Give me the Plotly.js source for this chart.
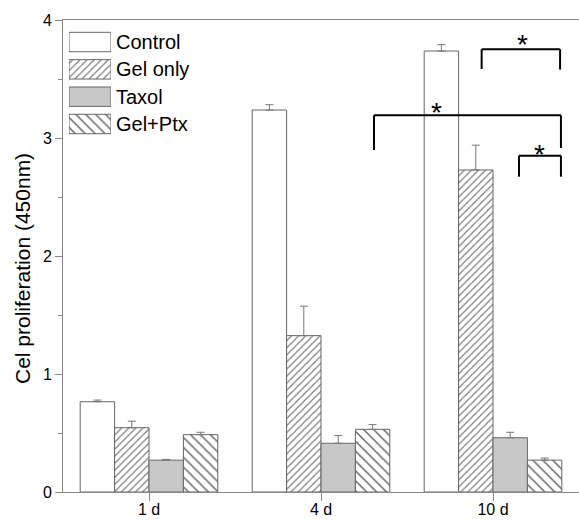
<!DOCTYPE html>
<html>
<head>
<meta charset="utf-8">
<script src="https://cdn.plot.ly/plotly-3.0.1.min.js"></script>
<style>html,body{margin:0;padding:0;background:#fff;}#chart{width:579px;height:521px;}</style>
</head>
<body>
<div id="chart"></div>
<script>
// ---- data ----
const categories = ['1 d', '4 d', '10 d'];
const seriesNames = ['Control', 'Gel only', 'Taxol', 'Gel+Ptx'];
const controlVals = [0.765, 3.237, 3.737];
const controlErr  = [0.014, 0.045, 0.054];
const gelVals     = [0.545, 1.325, 2.729];
const gelErr      = [0.055, 0.25, 0.21];
const taxolVals   = [0.27, 0.413, 0.46];
const taxolErr    = [0.006, 0.065, 0.046];
const gelPtxVals  = [0.486, 0.531, 0.27];
const gelPtxErr   = [0.02, 0.04, 0.018];
// significance brackets: [x left, x right, y top, y left foot, y right foot] (x in category index units)
const brackets = [
  [1.934, 2.39, 3.752, 3.585, 3.58],
  [1.308, 2.395, 3.192, 2.898, 2.915],
  [2.151, 2.395, 2.85, 2.672, 2.672]
];
// stars: [x, y]
const stars = [[2.169, 3.847], [1.673, 3.271], [2.273, 2.915]];
const yTitle = 'Cel proliferation (450nm)';

const FONT = 'Liberation Sans, Arial, sans-serif';
const outline = {color: '#666', width: 1};
const errStyle = {type: 'data', symmetric: false, color: '#777', thickness: 1, width: 4};
const zeros = [0, 0, 0];

const fills = [
  {color: '#ffffff', pattern: {shape: ''}},
  {color: '#ffffff', pattern: {shape: '/', fgcolor: '#777', bgcolor: '#ffffff', size: 5, solidity: 0.22}},
  {color: '#c8c8c8', pattern: {shape: ''}},
  {color: '#ffffff', pattern: {shape: '\\', fgcolor: '#555', bgcolor: '#ffffff', size: 7, solidity: 0.18}}
];
const vals = [controlVals, gelVals, taxolVals, gelPtxVals];
const errs = [controlErr, gelErr, taxolErr, gelPtxErr];

const traces = seriesNames.map((n, i) => ({
  type: 'bar', name: n, x: categories, y: vals[i],
  marker: {color: fills[i].color, line: outline, pattern: fills[i].pattern},
  error_y: Object.assign({array: errs[i], arrayminus: zeros}, errStyle),
  showlegend: false, hoverinfo: 'none'
}));

// legend swatches drawn as a small horizontal bar chart (one trace per series)
seriesNames.forEach((n, i) => {
  traces.push({
    type: 'bar', orientation: 'h', xaxis: 'x2', yaxis: 'y2',
    y: [n], x: [1], width: [0.71], offset: -0.355, base: 0,
    marker: {color: fills[i].color, line: outline, pattern: fills[i].pattern},
    cliponaxis: false, showlegend: false, hoverinfo: 'none'
  });
});

const lineStyle = {color: '#000', width: 2};
const shapes = [];
brackets.forEach(b => {
  shapes.push({type: 'line', xref: 'x', yref: 'y', x0: b[0], x1: b[1], y0: b[2], y1: b[2], line: lineStyle});
  shapes.push({type: 'line', xref: 'x', yref: 'y', x0: b[0], x1: b[0], y0: b[2], y1: b[3], line: lineStyle});
  shapes.push({type: 'line', xref: 'x', yref: 'y', x0: b[1], x1: b[1], y0: b[2], y1: b[4], line: lineStyle});
});
const annotations = stars.map(s => ({
  xref: 'x', yref: 'y', x: s[0], y: s[1], text: '*', showarrow: false,
  font: {family: FONT, size: 28, color: '#000'}, xanchor: 'center', yanchor: 'middle', yshift: -6
}));
annotations.push({
  xref: 'paper', yref: 'paper', x: -0.0775, y: 0.4725, text: yTitle, showarrow: false,
  textangle: -90, xanchor: 'center', yanchor: 'middle',
  font: {family: FONT, size: 21, color: '#000'}
});

const layout = {
  width: 579, height: 521,
  margin: {l: 63, r: 0, t: 20, b: 29, pad: 0},
  paper_bgcolor: '#fff', plot_bgcolor: '#fff',
  font: {family: FONT, color: '#000'},
  barmode: 'group', bargap: 0.2, bargroupgap: 0,
  showlegend: false,
  xaxis: {
    type: 'category', range: [-0.5, 2.5], showgrid: false, zeroline: false,
    showline: true, linecolor: '#888', linewidth: 1, mirror: true,
    ticks: 'outside', ticklen: 8, tickcolor: '#888', tickwidth: 1,
    ticklabelstandoff: -5,
    tickfont: {family: FONT, size: 16, color: '#000'}, fixedrange: true
  },
  yaxis: {
    range: [0, 4], dtick: 1, showgrid: false, zeroline: false,
    showline: true, linecolor: '#888', linewidth: 1,
    ticks: 'outside', ticklen: 7, tickcolor: '#888', tickwidth: 1,
    minor: {dtick: 0.5, ticks: 'outside', ticklen: 4, tickcolor: '#888', showgrid: false},
    tickfont: {family: FONT, size: 16, color: '#000'}
  },
  xaxis2: {domain: [0.0116, 0.093], anchor: 'y2', range: [0, 1], visible: false, fixedrange: true},
  yaxis2: {
    domain: [0.7507, 0.9823], anchor: 'x2', type: 'category', autorange: 'reversed',
    side: 'right', showline: false, showgrid: false, zeroline: false, ticks: '',
    ticklabelstandoff: 4,
    tickfont: {family: FONT, size: 20, color: '#000'}
  },
  shapes: shapes,
  annotations: annotations
};

Plotly.newPlot('chart', traces, layout, {staticPlot: true, displayModeBar: false});
</script>
</body>
</html>
